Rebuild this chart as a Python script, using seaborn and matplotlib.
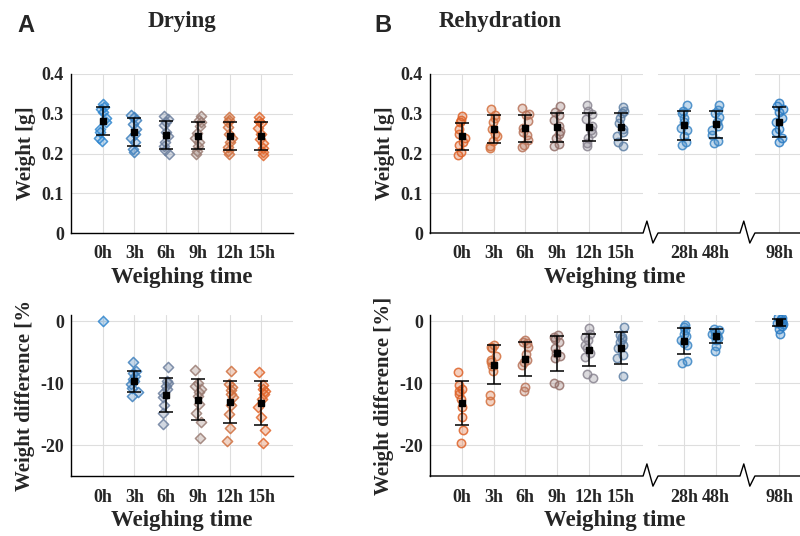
import matplotlib
matplotlib.use("Agg")
import matplotlib.pyplot as plt
import numpy as np
import pandas as pd
import seaborn as sns

# ---- data ----
dry_times = ["0h", "3h", "6h", "9h", "12h", "15h"]
dry_pos = [1, 2, 3, 4, 5, 6]
dry_colors = ["#2f86cf", "#3f80bd", "#6c7f9d", "#9a7c73", "#d0703f", "#e0652a"]

dry_weight = [
    [0.325, 0.318, 0.311, 0.305, 0.290, 0.278, 0.262, 0.255, 0.240, 0.232],
    [0.298, 0.291, 0.284, 0.275, 0.262, 0.250, 0.238, 0.228, 0.212, 0.203],
    [0.295, 0.287, 0.280, 0.271, 0.255, 0.243, 0.230, 0.220, 0.208, 0.200],
    [0.295, 0.285, 0.279, 0.268, 0.252, 0.240, 0.229, 0.218, 0.207, 0.199],
    [0.293, 0.284, 0.278, 0.266, 0.250, 0.238, 0.228, 0.216, 0.206, 0.198],
    [0.293, 0.283, 0.277, 0.265, 0.249, 0.237, 0.227, 0.215, 0.205, 0.197],
]
dry_weight_mean = [0.282, 0.254, 0.247, 0.245, 0.244, 0.243]
dry_weight_sd = [0.036, 0.035, 0.035, 0.034, 0.035, 0.035]

dry_diff = [
    [0],
    [-6.6, -8.0, -8.4, -8.9, -9.3, -9.7, -10.2, -10.8, -11.5, -12.1],
    [-7.4, -9.6, -10.0, -10.4, -11.0, -11.6, -12.3, -13.5, -14.8, -16.6],
    [-7.9, -10.0, -10.5, -11.0, -11.4, -12.0, -13.4, -14.8, -16.2, -18.8],
    [-8.1, -10.2, -10.6, -11.1, -11.7, -12.3, -13.5, -15.0, -17.3, -19.4],
    [-8.2, -10.3, -10.9, -11.3, -11.8, -12.5, -13.8, -15.4, -17.6, -19.7],
]
dry_diff_mean = [np.nan, -9.7, -11.9, -12.7, -13.0, -13.2]
dry_diff_sd = [np.nan, 1.7, 2.7, 3.3, 3.4, 3.5]

reh_times = ["0h", "3h", "6h", "9h", "12h", "15h", "28h", "48h", "98h"]
reh_pos = [1, 2, 3, 4, 5, 6, 8, 9, 11]
reh_colors = ["#de6228", "#d4703e", "#b9745a", "#94706a", "#8a8591",
              "#5f80a5", "#3a85c5", "#3a85c5", "#2b7cc4"]

reh_weight = [
    [0.294, 0.285, 0.279, 0.262, 0.250, 0.240, 0.230, 0.222, 0.205, 0.196],
    [0.312, 0.296, 0.290, 0.278, 0.262, 0.250, 0.244, 0.232, 0.218, 0.213],
    [0.314, 0.300, 0.296, 0.282, 0.265, 0.255, 0.246, 0.235, 0.222, 0.216],
    [0.319, 0.304, 0.298, 0.285, 0.268, 0.256, 0.250, 0.238, 0.225, 0.218],
    [0.321, 0.306, 0.300, 0.287, 0.270, 0.258, 0.251, 0.240, 0.226, 0.218],
    [0.318, 0.306, 0.301, 0.290, 0.276, 0.262, 0.254, 0.244, 0.230, 0.218],
    [0.323, 0.308, 0.302, 0.290, 0.278, 0.265, 0.258, 0.245, 0.230, 0.222],
    [0.321, 0.310, 0.303, 0.292, 0.280, 0.268, 0.258, 0.247, 0.232, 0.226],
    [0.328, 0.320, 0.312, 0.305, 0.290, 0.278, 0.262, 0.255, 0.238, 0.228],
]
reh_weight_mean = [0.243, 0.261, 0.263, 0.266, 0.267, 0.267, 0.271, 0.273, 0.280]
reh_weight_sd = [0.034, 0.035, 0.035, 0.036, 0.036, 0.034, 0.036, 0.035, 0.038]

reh_diff = [
    [-8.2, -10.3, -10.9, -11.3, -11.8, -12.5, -13.8, -15.4, -17.6, -19.7],
    [-3.8, -4.1, -4.3, -5.6, -6.2, -6.6, -7.2, -8.1, -11.9, -12.9],
    [-3.0, -3.3, -3.6, -4.1, -5.3, -6.2, -6.6, -7.0, -10.6, -11.2],
    [-2.2, -2.5, -2.9, -3.3, -4.4, -5.2, -5.6, -5.9, -10.0, -10.3],
    [-1.1, -2.1, -2.5, -3.0, -3.9, -4.3, -5.2, -5.8, -8.6, -9.1],
    [-1.0, -2.2, -2.5, -2.9, -3.3, -3.8, -4.4, -5.4, -6.0, -8.8],
    [-0.6, -0.9, -1.4, -2.1, -2.4, -3.1, -3.5, -3.8, -6.5, -6.8],
    [-1.3, -1.5, -1.8, -2.0, -2.2, -2.4, -2.7, -3.0, -4.0, -4.8],
    [0.6, 0.5, 0.3, 0.1, -0.1, -0.3, -0.5, -0.8, -1.3, -2.1],
]
reh_diff_mean = [-13.2, -7.0, -6.1, -5.2, -4.6, -4.3, -3.2, -2.4, -0.2]
reh_diff_sd = [3.5, 3.2, 2.8, 2.8, 2.6, 2.6, 2.1, 1.1, 0.6]

weight_ticks = [0, 0.1, 0.2, 0.3, 0.4]
weight_ticklabels = ["0", "0.1", "0.2", "0.3", "0.4"]
diff_ticks = [-20, -10, 0]
diff_ticklabels = ["-20", "-10", "0"]

# ---- style ----
sns.set_style("white")
plt.rcParams["font.family"] = ["Liberation Serif", "DejaVu Serif"]
plt.rcParams["font.weight"] = "bold"
np.random.seed(3)

SERIF = ["Liberation Serif", "DejaVu Serif"]


def draw_panel(ax, positions, times, values, means, sds, colors, marker, size,
               ylim, yticks, yticklabels, ylabel, xlim, breaks=()):
    rows = [(p, t, v) for p, t, vals in zip(positions, times, values) for v in vals]
    df = pd.DataFrame(rows, columns=["pos", "time", "value"])
    ax.grid(True, color="#dedede", lw=0.8)
    ax.set_axisbelow(True)
    sns.stripplot(data=df, x="pos", y="value", hue="time",
                  palette=dict(zip(times, colors)), native_scale=True,
                  jitter=0.12, marker=marker, size=size, linewidth=1.1,
                  legend=False, ax=ax, zorder=3)
    for coll in ax.collections:
        fc = coll.get_facecolor()
        if len(fc):
            rgb = fc[0][:3]
            coll.set_facecolor((*rgb, 0.3))
            coll.set_edgecolor((*rgb, 0.85))
    ax.errorbar(positions, means, yerr=sds, fmt="s", color="black", ms=3.8,
                capsize=5, elinewidth=1.1, capthick=1.1, zorder=4)

    ax.set_xlim(*xlim)
    ax.set_ylim(*ylim)
    ax.set_xticks(positions)
    ax.set_xticklabels(times, fontsize=13, fontweight="bold", family=SERIF)
    ax.set_yticks(yticks)
    ax.set_yticklabels(yticklabels, fontsize=13, fontweight="bold", family=SERIF)
    ax.tick_params(axis="x", direction="in", length=3, width=0.8, pad=9)
    ax.tick_params(axis="y", direction="in", length=3, width=0.8, pad=5)
    ax.set_xlabel("Weighing time", fontsize=16.5, fontweight="bold", family=SERIF,
                  labelpad=3)
    ax.set_ylabel(ylabel, fontsize=15, fontweight="bold", family=SERIF, labelpad=4)
    for side in ["top", "right"]:
        ax.spines[side].set_visible(False)
    ax.spines["left"].set_color("black")
    ax.spines["left"].set_linewidth(1)
    ax.spines["bottom"].set_color("black")
    ax.spines["bottom"].set_linewidth(1)

    if breaks:
        # axis breaks: gap in grid + zigzag on the x axis line
        ax.spines["bottom"].set_visible(False)
        xs, ys = [xlim[0]], [0]
        for b in breaks:
            ax.axvspan(b - 0.24, b + 0.23, color="white", zorder=1, lw=0)
            xs += [b - 0.24, b - 0.12, b + 0.07, b + 0.23]
            ys += [0, 0.075, -0.063, 0]
        xs.append(xlim[1])
        ys.append(0)
        ax.plot(xs, ys, color="black", lw=1, transform=ax.get_xaxis_transform(),
                clip_on=False, zorder=5)


fig = plt.figure(figsize=(8, 5.36), dpi=100)
W, H = 800, 536
axA1 = fig.add_axes([71 / W, 1 - 233 / H, 222 / W, 159 / H])
axA2 = fig.add_axes([71 / W, 1 - 476 / H, 222 / W, 161 / H])
axB1 = fig.add_axes([430 / W, 1 - 233 / H, 370 / W, 159 / H])
axB2 = fig.add_axes([430 / W, 1 - 476 / H, 370 / W, 161 / H])

draw_panel(axA1, dry_pos, dry_times, dry_weight, dry_weight_mean, dry_weight_sd,
           dry_colors, "D", 5.2, (0, 0.4), weight_ticks, weight_ticklabels,
           "Weight [g]", (0, 7))
draw_panel(axA2, dry_pos, dry_times, dry_diff, dry_diff_mean, dry_diff_sd,
           dry_colors, "D", 5.2, (-25, 1), diff_ticks, diff_ticklabels,
           "Weight difference [%", (0, 7))
draw_panel(axB1, reh_pos, reh_times, reh_weight, reh_weight_mean, reh_weight_sd,
           reh_colors, "o", 6, (0, 0.4), weight_ticks, weight_ticklabels,
           "Weight [g]", (0, 11.65), breaks=(6.95, 10.0))
draw_panel(axB2, reh_pos, reh_times, reh_diff, reh_diff_mean, reh_diff_sd,
           reh_colors, "o", 6, (-25, 1), diff_ticks, diff_ticklabels,
           "Weight difference [%]", (0, 11.65), breaks=(6.95, 10.0))

fig.text(182 / W, 1 - 21 / H, "Drying", ha="center", va="center", fontsize=16.5,
         fontweight="bold", family=SERIF)
fig.text(500 / W, 1 - 21 / H, "Rehydration", ha="center", va="center",
         fontsize=16.5, fontweight="bold", family=SERIF)
fig.text(26 / W, 1 - 25 / H, "A", ha="center", va="center", fontsize=17,
         fontweight="bold", family=["Liberation Sans", "DejaVu Sans"])
fig.text(383 / W, 1 - 25 / H, "B", ha="center", va="center", fontsize=17,
         fontweight="bold", family=["Liberation Sans", "DejaVu Sans"])

fig.savefig("out.png", dpi=100)
